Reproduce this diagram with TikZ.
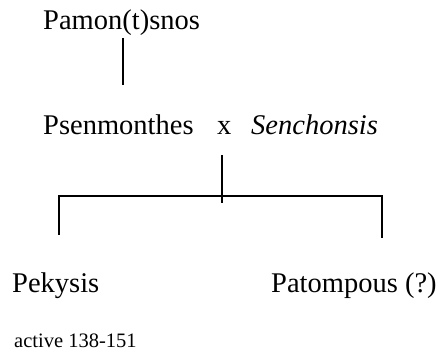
\documentclass[tikz,border=0pt]{standalone}
\usepackage{fontspec}
\setmainfont{Liberation Serif}
\begin{document}
\begin{tikzpicture}[x=1pt,y=1pt,
  person/.style={anchor=base west,inner sep=0pt,font=\fontsize{28.5}{32}\selectfont},
  note/.style={anchor=base west,inner sep=0pt,font=\fontsize{20.5}{24}\selectfont},
  tie/.style={line width=1.3pt}]
\useasboundingbox (0,0) rectangle (441,352);
% persons
\node[person] (pamon) at (43,322) {Pamon(t)snos};
\node[person] (psen)  at (43,217) {Psenmonthes};
\node[person] (x)     at (217,217) {x};
\node[person] (senc)  at (251,217) {\itshape Senchonsis};
\node[person] (pek)   at (12,59) {Pekysis};
\node[person] (pato)  at (271,59) {Patompous (?)};
\node[note] (act)   at (14,4) {active 138-151};
% connector ends
\coordinate (d1) at (123,314);
\coordinate (d2) at (123,267);
\coordinate (m1) at (222,197);
\coordinate (m2) at (222,149);
\coordinate (bl) at (59,156);
\coordinate (br) at (382,156);
\coordinate (el) at (59,117);
\coordinate (er) at (382,114);
% descent lines
\draw[tie] (d1) -- (d2);
\draw[tie] (m1) -- (m2);
\draw[tie] (el) -- (bl) -- (br) -- (er);
\end{tikzpicture}
\end{document}
